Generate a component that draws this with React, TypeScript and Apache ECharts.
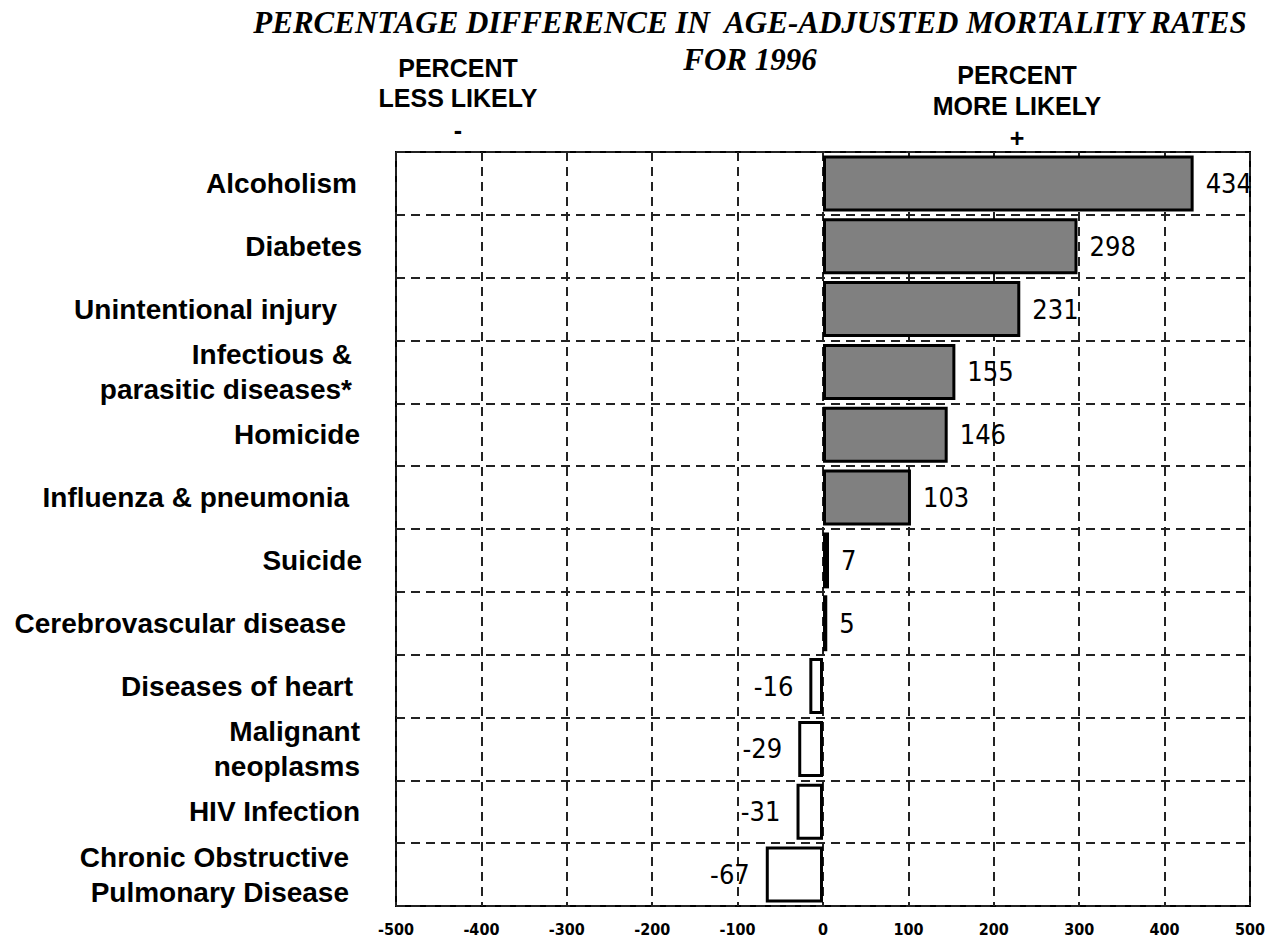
import React, { useEffect, useRef } from "react";
import * as echarts from "echarts";

// ---- data ----
const categories = [
  "Alcoholism",
  "Diabetes",
  "Unintentional injury",
  "Infectious &\nparasitic diseases*",
  "Homicide",
  "Influenza & pneumonia",
  "Suicide",
  "Cerebrovascular disease",
  "Diseases of heart",
  "Malignant\nneoplasms",
  "HIV Infection",
  "Chronic Obstructive\nPulmonary Disease",
];
const values = [434, 298, 231, 155, 146, 103, 7, 5, -16, -29, -31, -67];
const xMin = -500;
const xMax = 500;
const xStep = 100;

const titleLine1 = "PERCENTAGE DIFFERENCE IN  AGE-ADJUSTED MORTALITY RATES";
const titleLine2 = "FOR 1996";
const leftNote = ["PERCENT", "LESS LIKELY", "-"];
const rightNote = ["PERCENT", "MORE LIKELY", "+"];

// ---- styling (kept separate from data) ----
const labelRightPad = [5, 0, 25, 10, 2, 13, 0, 16, 9, 2, 2, 13];
const SANS = "'Liberation Sans', Arial, sans-serif";
const NARROW = "'Liberation Sans Narrow', 'DejaVu Sans Condensed', 'Liberation Sans', sans-serif";
const SERIF = "'Liberation Serif', 'Times New Roman', serif";

export default function App() {
  const ref = useRef<HTMLDivElement>(null);

  useEffect(() => {
    document.body.style.margin = "0";
    if (!ref.current) return;
    const chart = echarts.init(ref.current, null, { renderer: "svg" });

    const noteText = (lines: string[], x: number, ys: number[]) =>
      lines.map((t, i) => ({
        type: "text",
        x,
        y: ys[i],
        style: {
          text: t,
          fill: "#000",
          font: `bold 25px ${SANS}`,
          textAlign: "center",
          textVerticalAlign: "middle",
        },
      }));

    chart.setOption({
      animation: false,
      backgroundColor: "#fff",
      grid: {
        left: 396,
        right: 24,
        top: 152,
        bottom: 37,
        show: true,
        borderColor: "#000",
        borderWidth: 2,
        backgroundColor: "transparent",
        containLabel: false,
      },
      xAxis: {
        type: "value",
        min: xMin,
        max: xMax,
        interval: xStep,
        axisLine: { show: false },
        axisTick: { show: false },
        axisLabel: {
          color: "#000",
          fontFamily: NARROW,
          fontSize: 16,
          fontWeight: "bold",
          margin: 15,
        },
        splitLine: {
          show: true,
          lineStyle: { color: "#222", width: 2, type: [9, 6] },
        },
      },
      yAxis: {
        type: "category",
        inverse: true,
        data: categories.map((c, i) => ({
          value: c,
          textStyle: { padding: [0, labelRightPad[i], 0, 0] },
        })),
        axisLine: { show: false },
        axisTick: { show: false },
        axisLabel: {
          color: "#000",
          fontFamily: SANS,
          fontWeight: "bold",
          fontSize: 28,
          lineHeight: 35,
          margin: 34,
          align: "right",
        },
        splitLine: {
          show: true,
          lineStyle: { color: "#222", width: 2, type: [9, 6] },
        },
      },
      series: [
        {
          type: "bar",
          barWidth: "89%",
          data: values.map((v) => ({
            value: v,
            itemStyle: {
              color: v >= 0 ? "#808080" : "#ffffff",
              borderColor: "#000",
              borderWidth: 3,
            },
            label: {
              show: true,
              position: v >= 0 ? "right" : "left",
              distance: v >= 0 ? 12 : 16,
            },
          })),
          label: {
            show: true,
            color: "#000",
            fontFamily: NARROW,
            fontSize: 27,
            formatter: "{c}",
          },
        },
      ],
      graphic: [
        {
          type: "text",
          x: 750,
          y: 22,
          style: {
            text: titleLine1,
            fill: "#000",
            font: `italic bold 31px ${SERIF}`,
            textAlign: "center",
            textVerticalAlign: "middle",
          },
        },
        {
          type: "text",
          x: 750,
          y: 59,
          style: {
            text: titleLine2,
            fill: "#000",
            font: `italic bold 31px ${SERIF}`,
            textAlign: "center",
            textVerticalAlign: "middle",
          },
        },
        ...noteText(leftNote, 458, [68, 98, 130]),
        ...noteText(rightNote, 1017, [75, 106, 138]),
      ],
    });

    return () => chart.dispose();
  }, []);

  return <div ref={ref} style={{ width: 1274, height: 943 }} />;
}
